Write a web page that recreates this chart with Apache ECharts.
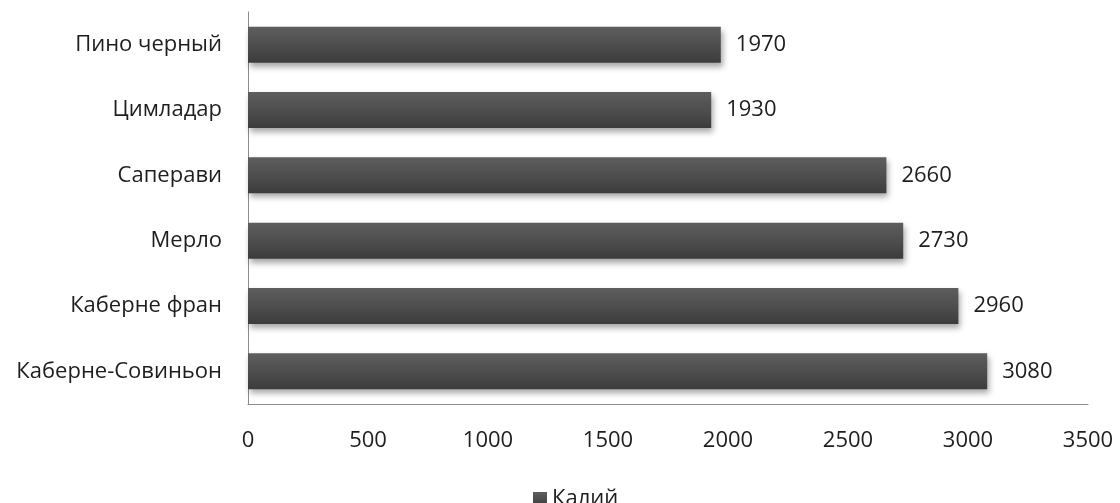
<!DOCTYPE html>
<html>
<head>
<meta charset="utf-8">
<script src="https://cdn.jsdelivr.net/npm/echarts@6/dist/echarts.min.js"></script>
<style>
  html, body { margin: 0; padding: 0; background: #ffffff; }
  #chart { width: 1120px; height: 503px; }
</style>
</head>
<body>
<div id="chart"></div>
<script>
// Grape varieties, listed bottom to top as they appear on the category axis
const categories = ['Каберне-Совиньон', 'Каберне фран', 'Мерло', 'Саперави', 'Цимладар', 'Пино черный'];
// Potassium content per variety
const potassium = [3080, 2960, 2730, 2660, 1930, 1970];
const seriesName = 'Калий';
const xTicks = { min: 0, max: 3500, interval: 500 };

const fontFamily = '"Open Sans", "Noto Sans", sans-serif';
const fontSize = 22;
const textColor = '#1e1e1e';
const chart = echarts.init(document.getElementById('chart'));

chart.setOption({
  animation: false,
  grid: { left: 248, right: 32, top: 12, bottom: 99, containLabel: false },
  legend: {
    data: [seriesName],
    top: 483,
    left: 528,
    itemWidth: 14,
    itemHeight: 14,
    itemGap: 8,
    icon: 'rect',
    textStyle: { fontFamily, fontSize, color: textColor }
  },
  xAxis: {
    type: 'value',
    min: xTicks.min,
    max: xTicks.max,
    interval: xTicks.interval,
    axisLine: { show: true, lineStyle: { color: '#8c8c8c', width: 1 } },
    axisTick: { show: false },
    splitLine: { show: false },
    axisLabel: {
      fontFamily, fontSize, color: textColor, margin: 26,
      formatter: v => String(v)
    }
  },
  yAxis: {
    type: 'category',
    data: categories,
    axisLine: { show: true, lineStyle: { color: '#8c8c8c', width: 1 } },
    axisTick: { show: false },
    axisLabel: { fontFamily, fontSize, color: textColor, margin: 26 }
  },
  series: [{
    name: seriesName,
    type: 'bar',
    data: potassium,
    barWidth: 36,
    itemStyle: {
      color: new echarts.graphic.LinearGradient(0, 0, 0, 1, [
        { offset: 0, color: '#5e5e5e' },
        { offset: 0.5, color: '#4e4e4e' },
        { offset: 1, color: '#3c3c3c' }
      ]),
      shadowColor: 'rgba(0,0,0,0.35)',
      shadowBlur: 6,
      shadowOffsetX: 2,
      shadowOffsetY: 4
    },
    label: {
      show: true,
      position: 'right',
      distance: 15,
      fontFamily,
      fontSize,
      color: textColor
    }
  }]
});
</script>
</body>
</html>
